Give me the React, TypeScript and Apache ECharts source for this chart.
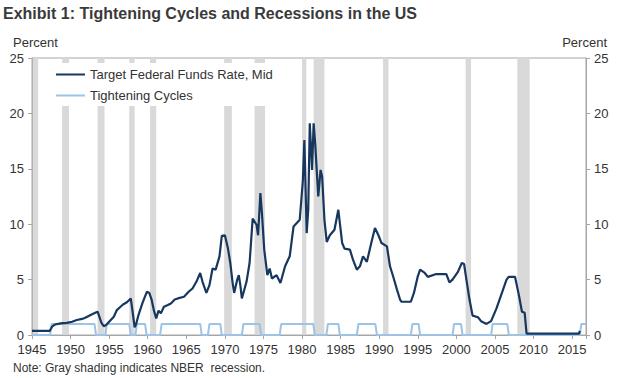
import React, { useEffect, useRef } from "react";
import * as echarts from "echarts";

const X_MIN = 1945;
const X_MAX = 2016.8;

const rateYears = [
  1945.0, 1947.3, 1947.6, 1948.0, 1948.7, 1949.5, 1950.2, 1950.8, 1951.5, 1951.9,
  1952.6, 1953.2, 1953.5, 1953.7, 1954.0, 1954.3, 1954.6, 1955.0, 1955.6, 1956.0,
  1956.4, 1956.8, 1957.3, 1957.8, 1958.0, 1958.3, 1958.5, 1958.8, 1959.3, 1959.6,
  1959.9, 1960.2, 1960.5, 1960.8, 1961.1, 1961.4, 1961.7, 1962.1, 1962.6, 1963.0,
  1963.5, 1963.9, 1964.7, 1965.3, 1965.8, 1966.3, 1966.8, 1967.1, 1967.6, 1968.0,
  1968.4, 1968.8, 1969.3, 1969.6, 1970.0, 1970.4, 1970.7, 1971.0, 1971.2, 1971.6,
  1971.8, 1972.0, 1972.2, 1972.8, 1973.2, 1973.6, 1974.1, 1974.3, 1974.6, 1974.8,
  1975.1, 1975.5, 1975.8, 1976.1, 1976.7, 1977.2, 1977.8, 1978.4, 1978.9, 1979.7,
  1980.1, 1980.3, 1980.6, 1980.8, 1981.0, 1981.3, 1981.5, 1981.7, 1982.1, 1982.4,
  1982.6, 1982.9, 1983.2, 1983.6, 1984.2, 1984.7, 1984.9, 1985.2, 1985.5, 1986.2,
  1986.6, 1987.1, 1987.5, 1987.9, 1988.4, 1989.0, 1989.45, 1989.9, 1990.3, 1991.0,
  1991.4, 1991.8, 1992.3, 1992.7, 1992.9, 1994.1, 1994.5, 1995.0, 1995.3, 1995.9,
  1996.3, 1997.4, 1998.7, 1999.1, 1999.5, 2000.2, 2000.7, 2001.0, 2001.3, 2001.7,
  2002.1, 2002.8, 2003.2, 2003.9, 2004.5, 2005.2, 2005.8, 2006.5, 2006.8, 2007.6,
  2008.1, 2008.5, 2008.85, 2009.1, 2015.9, 2016.0,
];
const rateValues = [
  0.38, 0.38, 0.75, 0.95, 1.05, 1.1, 1.2, 1.35, 1.45, 1.55,
  1.8, 2.0, 2.1, 1.7, 1.1, 0.8, 0.9, 1.2, 1.65, 2.25,
  2.5, 2.75, 2.95, 3.3, 2.3, 0.7, 1.0, 1.8, 2.85, 3.4,
  3.9, 3.8, 3.2, 2.2, 1.5, 2.2, 1.95, 2.55, 2.7, 2.85,
  3.2, 3.3, 3.45, 3.9, 4.2, 4.8, 5.6, 4.8, 3.8, 4.5,
  6.0, 5.9, 7.1, 8.95, 9.0, 7.8, 6.5, 4.7, 3.8, 5.0,
  5.4, 4.5, 3.3, 4.8, 6.5, 10.5, 9.95, 9.0, 12.8, 11.0,
  7.7, 5.4, 6.0, 5.1, 5.4, 4.7, 6.2, 7.1, 9.8, 10.4,
  13.9, 17.6, 9.2, 11.3, 19.1, 14.9, 19.1, 17.3, 12.5, 14.9,
  14.3, 10.4, 8.4, 9.0, 9.5, 11.3, 10.1, 8.3, 7.8, 7.7,
  6.8, 5.9, 6.2, 7.1, 6.6, 8.4, 9.65, 9.0, 8.3, 8.0,
  6.2, 5.3, 4.1, 3.2, 3.0, 3.0, 3.8, 5.3, 5.9, 5.6,
  5.25, 5.5, 5.5, 4.75, 5.0, 5.7, 6.5, 6.4, 5.0, 3.2,
  1.75, 1.6, 1.25, 1.0, 1.25, 2.4, 3.6, 5.0, 5.25, 5.25,
  3.6, 2.1, 2.0, 0.125, 0.125, 0.375,
];

const tightStarts = [1947.35, 1954.5, 1958.4, 1961.6, 1967.8, 1972.2, 1977.1, 1983.15, 1987.1, 1994.1, 1999.5, 2004.5, 2016.0];
const tightEnds = [1953.3, 1957.8, 1959.85, 1967.0, 1969.6, 1974.7, 1981.65, 1984.9, 1989.7, 1995.3, 2000.8, 2006.8, 2016.8];

const recessionStarts = [1945.1, 1948.9, 1953.5, 1957.6, 1960.3, 1969.9, 1973.85, 1980.0, 1981.5, 1990.5, 2001.2, 2007.9];
const recessionEnds = [1945.8, 1949.8, 1954.4, 1958.3, 1961.1, 1970.9, 1975.2, 1980.55, 1982.9, 1991.2, 2001.9, 2009.5];

const xTickYears = [1945, 1950, 1955, 1960, 1965, 1970, 1975, 1980, 1985, 1990, 1995, 2000, 2005, 2010, 2015];

const FONT = "'Liberation Sans', Arial, sans-serif";
const RATE_NAME = "Target Federal Funds Rate, Mid";
const TIGHT_NAME = "Tightening Cycles";
const RATE_COLOR = "#17375E";
const TIGHT_COLOR = "#9DC3E6";

export default function App() {
  const ref = useRef<HTMLDivElement>(null);
  useEffect(() => {
    const chart = echarts.init(ref.current as HTMLDivElement, null, { renderer: "svg" });

    const rateData = rateYears.map((y, i) => [y, rateValues[i]]);
    const tightData: number[][] = [[X_MIN, 0]];
    tightStarts.forEach((s, i) => {
      const e = tightEnds[i];
      tightData.push([s, 0], [s + 0.2, 1]);
      if (e < X_MAX) {
        tightData.push([e - 0.2, 1], [e, 0]);
      } else {
        tightData.push([X_MAX, 1]);
      }
    });

    const axisColor = "#A6A6A6";
    const labelColor = "#333333";

    const yAxisBase = {
      type: "value",
      min: 0,
      max: 25,
      interval: 5,
      axisLine: { show: true, lineStyle: { color: axisColor, width: 1 } },
      axisTick: { show: true, inside: false, length: 4, lineStyle: { color: axisColor } },
      axisLabel: { color: labelColor, fontSize: 13, lineHeight: 12, fontFamily: FONT, margin: 8 },
      splitLine: { show: false },
    };

    chart.setOption({
      animation: false,
      backgroundColor: "#ffffff",
      textStyle: { fontFamily: FONT },
      title: {
        text: "Exhibit 1: Tightening Cycles and Recessions in the US",
        left: 3,
        top: 5,
        padding: 0,
        textStyle: { fontSize: 16, fontWeight: "bold", color: "#3a3a3a", fontFamily: FONT },
      },
      grid: {
        left: 32,
        right: 34,
        top: 58,
        bottom: 43,
        show: true,
        borderColor: axisColor,
        borderWidth: 1,
        backgroundColor: "transparent",
      },
      legend: {
        orient: "vertical",
        left: 45,
        top: 63,
        icon: "rect",
        itemWidth: 29,
        itemHeight: 2,
        itemGap: 8,
        padding: [5, 9, 4, 11],
        backgroundColor: "#ffffff",
        data: [
          { name: RATE_NAME, itemStyle: { color: RATE_COLOR } },
          { name: TIGHT_NAME, itemStyle: { color: TIGHT_COLOR } },
        ],
        textStyle: { fontSize: 13, color: labelColor, fontFamily: FONT },
      },
      xAxis: {
        type: "value",
        min: X_MIN,
        max: X_MAX,
        interval: 5,
        axisLine: { show: true, lineStyle: { color: axisColor } },
        axisTick: { show: true, inside: false, length: 4, lineStyle: { color: axisColor } },
        axisLabel: {
          color: labelColor,
          fontSize: 13,
          lineHeight: 12,
          fontFamily: FONT,
          margin: 8,
          formatter: (v: number) => (xTickYears.indexOf(v) >= 0 ? String(v) : ""),
        },
        splitLine: { show: false },
      },
      yAxis: [
        { ...yAxisBase, position: "left" },
        { ...yAxisBase, position: "right" },
      ],
      graphic: [
        {
          type: "text",
          left: 13,
          top: 36,
          style: { text: "Percent", fontSize: 13, fill: labelColor, fontFamily: FONT },
        },
        {
          type: "text",
          right: 13,
          top: 36,
          style: { text: "Percent", fontSize: 13, fill: labelColor, fontFamily: FONT },
        },
        {
          type: "text",
          left: 13,
          top: 362,
          style: {
            text: "Note: Gray shading indicates NBER  recession.",
            fontSize: 12,
            fill: labelColor,
            fontFamily: FONT,
          },
        },
      ],
      series: [
        {
          name: RATE_NAME,
          type: "line",
          data: rateData,
          symbol: "none",
          z: 3,
          lineStyle: { color: RATE_COLOR, width: 2.2 },
          itemStyle: { color: RATE_COLOR },
          markArea: {
            silent: true,
            itemStyle: { color: "#D9D9D9" },
            data: recessionStarts.map((s, i) => [{ xAxis: s }, { xAxis: recessionEnds[i] }]),
          },
        },
        {
          name: TIGHT_NAME,
          type: "line",
          data: tightData,
          symbol: "none",
          z: 2,
          lineStyle: { color: TIGHT_COLOR, width: 2 },
          itemStyle: { color: TIGHT_COLOR },
        },
      ],
    });

    return () => chart.dispose();
  }, []);

  return (
    <div
      ref={ref}
      style={{ position: "fixed", left: 0, top: 0, width: 620, height: 378 }}
    />
  );
}
